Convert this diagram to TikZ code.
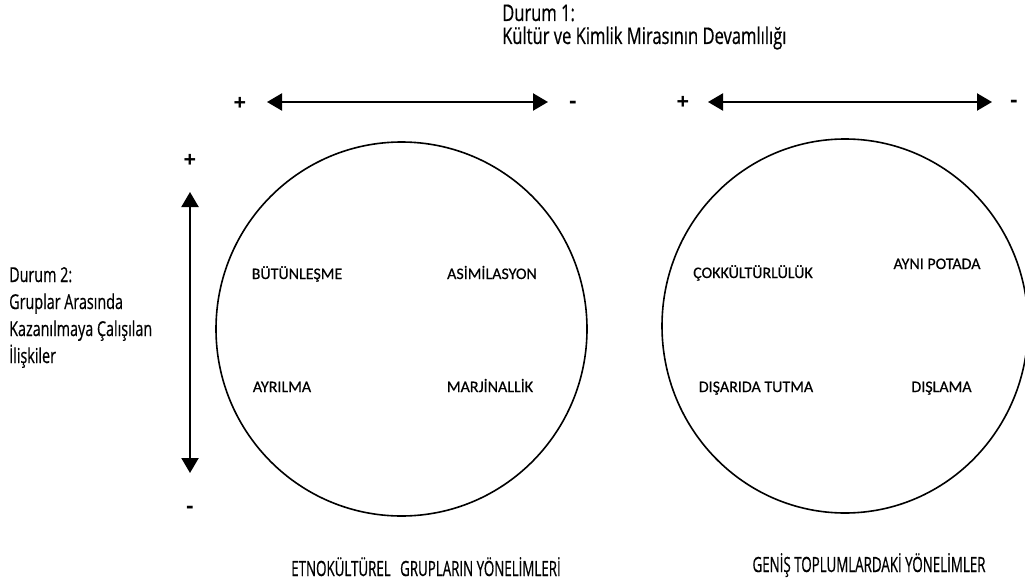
\documentclass[tikz,border=0pt]{standalone}
\usepackage{fontspec}
\setmainfont{Carlito}[FakeBold=0.5]
\newfontfamily\condtop[FakeStretch=0.72,FakeBold=0.5]{Open Sans}
\newfontfamily\condleft[FakeStretch=0.7,FakeBold=0.5]{Open Sans}
\newfontfamily\condbot[FakeStretch=0.635,FakeBold=0.6]{Open Sans}
\newfontfamily\signfont{Open Sans}
\usetikzlibrary{arrows.meta}
\tikzset{
  axis/.style={line width=2.2pt,{Triangle[length=15pt,width=17pt]}-{Triangle[length=15pt,width=17pt]}},
  ring/.style={line width=1.6pt},
  lbl/.style={anchor=base,inner sep=0pt,font=\fontsize{16}{18}\selectfont},
  topt/.style={anchor=base west,inner sep=0pt,font=\condtop\fontsize{23}{26}\selectfont},
  leftt/.style={anchor=base west,inner sep=0pt,font=\condleft\fontsize{20.5}{23}\selectfont},
  bott/.style={anchor=base,inner sep=0pt,font=\condbot\fontsize{21}{24}\selectfont},
  sign/.style={inner sep=0pt,font=\signfont\bfseries\fontsize{22}{24}\selectfont}
}
\begin{document}
\begin{tikzpicture}[x=1pt,y=-1pt]
\clip (0,0) rectangle (1025,586);
\fill[white] (0,0) rectangle (1025,586);
% titles
\node[topt] (d1) at (502,21) {Durum 1:};
\node[topt] (d1b) at (502,44) {Kültür ve Kimlik Mirasının Devamlılığı};
\node[leftt] (d2) at (9,282) {Durum 2:};
\node[leftt] (d2b) at (9,309) {Gruplar Arasında};
\node[leftt] (d2c) at (9,336) {Kazanılmaya Çalışılan};
\node[leftt] (d2d) at (9,363) {İlişkiler};
% axes
\coordinate (h1a) at (267,102); \coordinate (h1b) at (548,102);
\coordinate (h2a) at (708,102); \coordinate (h2b) at (992,102);
\coordinate (va) at (190,192); \coordinate (vb) at (190,473);
\draw[axis] (h1a) -- (h1b);
\draw[axis] (h2a) -- (h2b);
\draw[axis] (va) -- (vb);
\node[sign] (p1) at (240,104) {+};
\node[sign] (m1) at (573,105) {-};
\node[sign] (p2) at (683,103) {+};
\node[sign] (m2) at (1014,104) {-};
\node[sign] (p3) at (190,161) {+};
\node[sign] (m3) at (190,510) {-};
% circles
\draw[ring] (401.5,329) ellipse [x radius=185.5, y radius=187];
\draw[ring] (845,326) ellipse [x radius=183, y radius=187];
% labels
\node[lbl] (a1) at (297,279) {BÜTÜNLEŞME};
\node[lbl] (a2) at (492,279) {ASİMİLASYON};
\node[lbl] (a3) at (282,392) {AYRILMA};
\node[lbl] (a4) at (490,392) {MARJİNALLİK};
\node[lbl] (b1) at (753,278) {ÇOKKÜLTÜRLÜLÜK};
\node[lbl] (b2) at (937,269) {AYNI POTADA};
\node[lbl] (b3) at (756,392) {DIŞARIDA TUTMA};
\node[lbl] (b4) at (941.5,392) {DIŞLAMA};
% bottom titles
\node[bott] (t1) at (426,576) {ETNOKÜLTÜREL\hspace{0.45em}GRUPLARIN YÖNELİMLERİ};
\node[bott] (t2) at (869,572) {GENİŞ TOPLUMLARDAKİ YÖNELİMLER};
\end{tikzpicture}
\end{document}
